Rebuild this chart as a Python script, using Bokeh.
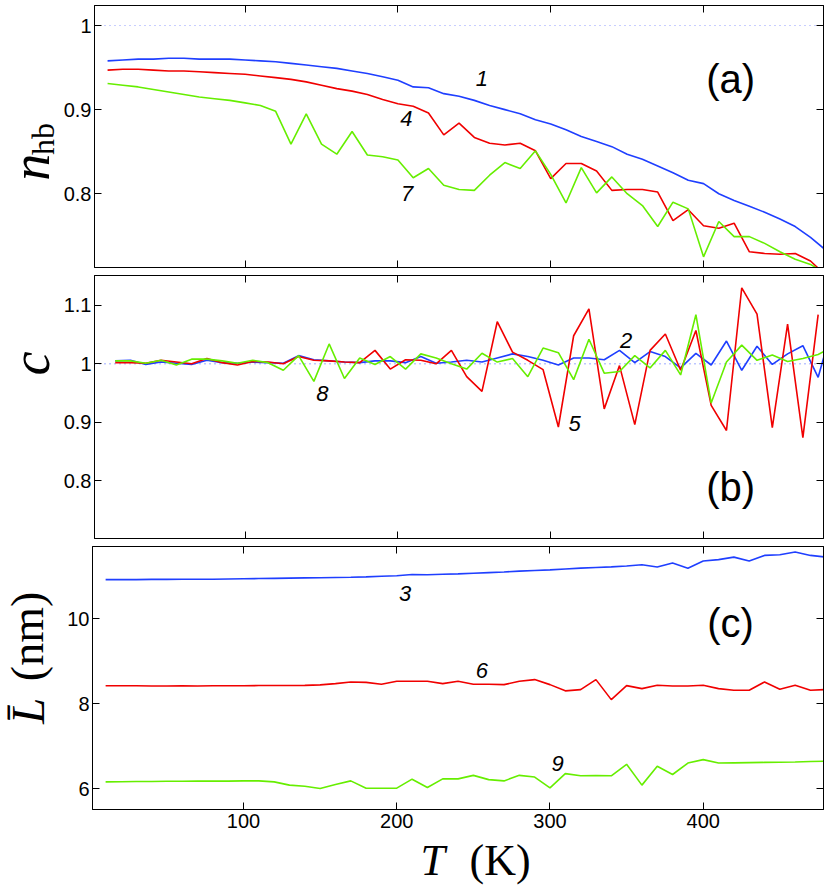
import math
from bokeh.plotting import figure
from bokeh.layouts import column, row
from bokeh.models import Range1d, LinearAxis, FixedTicker, CustomJSTickFormatter, Span, Label
from bokeh.embed import file_html
from bokeh.resources import INLINE

# ---------------- data ----------------
T = [10, 20, 30, 40, 50, 60, 70, 80, 90, 100, 110, 120, 130, 140, 150, 160,
     170, 180, 190, 200, 210, 220, 230, 240, 250, 260, 270, 280, 290, 300, 310, 320,
     330, 340, 350, 360, 370, 380, 390, 400, 410, 420, 430, 440, 450, 460, 470, 480]
T_mid = [15, 25, 35, 45, 55, 65, 75, 85, 95, 105, 115, 125, 135, 145, 155, 165,
         175, 185, 195, 205, 215, 225, 235, 245, 255, 265, 275, 285, 295, 305, 315, 325,
         335, 345, 355, 365, 375, 385, 395, 405, 415, 425, 435, 445, 455, 465, 475, 485]

# panel (a): n_hb
nhb_1 = [0.958, 0.959, 0.960, 0.960, 0.961, 0.961, 0.960, 0.960, 0.960, 0.959, 0.958, 0.957,
         0.955, 0.953, 0.951, 0.949, 0.946, 0.943, 0.939, 0.935, 0.927, 0.926, 0.919, 0.916,
         0.911, 0.905, 0.900, 0.895, 0.888, 0.883, 0.876, 0.868, 0.862, 0.856, 0.847, 0.841,
         0.833, 0.825, 0.816, 0.812, 0.800, 0.792, 0.785, 0.778, 0.770, 0.761, 0.748, 0.733]
nhb_4 = [0.947, 0.948, 0.948, 0.947, 0.946, 0.946, 0.945, 0.944, 0.943, 0.942, 0.940, 0.938,
         0.936, 0.933, 0.929, 0.925, 0.922, 0.918, 0.912, 0.907, 0.904, 0.896, 0.870, 0.884,
         0.867, 0.860, 0.858, 0.860, 0.851, 0.818, 0.836, 0.836, 0.827, 0.804, 0.805, 0.805,
         0.802, 0.768, 0.781, 0.762, 0.759, 0.765, 0.731, 0.729, 0.728, 0.729, 0.720, 0.703]
nhb_7 = [0.931, 0.929, 0.927, 0.924, 0.921, 0.918, 0.915, 0.913, 0.911, 0.908, 0.905, 0.898,
         0.859, 0.895, 0.859, 0.847, 0.874, 0.846, 0.844, 0.840, 0.819, 0.830, 0.810, 0.805,
         0.804, 0.822, 0.837, 0.830, 0.851, 0.823, 0.789, 0.831, 0.801, 0.820, 0.800, 0.786,
         0.761, 0.790, 0.782, 0.725, 0.767, 0.749, 0.749, 0.741, 0.731, 0.722, 0.716, 0.705]

# panel (b): c
c_2 = [1.005, 1.006, 0.999, 1.003, 1.001, 0.999, 1.006, 1.002, 1.001, 1.003, 1.002, 1.001,
       1.014, 1.007, 1.005, 1.003, 1.002, 1.005, 1.005, 1.002, 1.0125, 1.001, 1.003, 1.006,
       1.003, 1.010, 1.017, 1.0125, 1.006, 0.998, 1.010, 1.010, 1.007, 1.023, 1.002, 1.021,
       1.0125, 0.993, 1.018, 0.998, 1.039, 0.989, 1.030, 0.999, 1.017, 1.031, 0.977, 1.07]
c_5 = [1.002, 1.002, 1.001, 1.006, 1.003, 1.000, 1.009, 1.002, 0.998, 1.004, 1.003, 1.000,
       1.0125, 1.006, 1.005, 1.003, 1.002, 1.023, 0.991, 1.007, 1.006, 1.000, 1.023, 0.978,
       0.953, 1.072, 1.020, 1.006, 0.990, 0.892, 1.048, 1.094, 0.923, 0.997, 0.896, 1.023,
       1.051, 0.989, 1.057, 0.929, 0.886, 1.130, 1.085, 0.891, 1.068, 0.874, 1.084]
c_8 = [1.005, 1.005, 1.001, 1.006, 0.998, 1.008, 1.008, 1.005, 1.001, 1.006, 1.002, 0.989,
       1.014, 0.970, 1.034, 0.975, 1.010, 0.999, 1.0125, 0.991, 1.017, 1.010, 1.000, 0.991,
       1.018, 1.003, 1.009, 0.978, 1.027, 1.019, 0.973, 1.042, 0.984, 0.987, 1.014, 0.993,
       1.023, 0.981, 1.084, 0.933, 1.003, 1.032, 1.006, 1.015, 1.004, 1.009, 1.016, 1.030]

# panel (c): L (nm)
L_3 = [10.92, 10.92, 10.92, 10.925, 10.925, 10.928, 10.93, 10.93, 10.935, 10.94, 10.945, 10.95,
       10.955, 10.96, 10.965, 10.97, 10.975, 10.985, 11.0, 11.01, 11.04, 11.035, 11.045, 11.055,
       11.07, 11.085, 11.10, 11.12, 11.135, 11.15, 11.17, 11.19, 11.205, 11.22, 11.24, 11.27,
       11.216, 11.31, 11.19, 11.357, 11.39, 11.45, 11.357, 11.49, 11.506, 11.57, 11.49, 11.45]
L_6 = [8.42, 8.42, 8.42, 8.415, 8.415, 8.42, 8.415, 8.42, 8.42, 8.42, 8.425, 8.425,
       8.425, 8.43, 8.44, 8.47, 8.51, 8.50, 8.455, 8.525, 8.525, 8.525, 8.47, 8.525,
       8.455, 8.455, 8.447, 8.525, 8.565, 8.447, 8.30, 8.33, 8.565, 8.094, 8.424, 8.353,
       8.431, 8.416, 8.416, 8.431, 8.353, 8.314, 8.314, 8.51, 8.337, 8.431, 8.314, 8.33]
L_9 = [6.157, 6.16, 6.165, 6.165, 6.17, 6.17, 6.175, 6.175, 6.175, 6.18, 6.18, 6.157,
       6.08, 6.055, 6.0, 6.094, 6.18, 6.008, 6.008, 6.008, 6.22, 6.024, 6.227, 6.227,
       6.31, 6.21, 6.18, 6.31, 6.27, 6.016, 6.35, 6.30, 6.306, 6.30, 6.57, 6.08,
       6.525, 6.33, 6.60, 6.68, 6.60, 6.605, 6.61, 6.615, 6.62, 6.625, 6.635, 6.645]

x_ticks = [100, 200, 300, 400]
ticks_a = [0.8, 0.9, 1.0]
ticks_b = [0.8, 0.9, 1.0, 1.1]
ticks_c = [6, 8, 10]

BLUE = "#1f3fff"
RED = "#f00000"
GREEN = "#66ee00"
SANS = "Liberation Sans"
SERIF = "Liberation Serif"

xr = Range1d(1.44, 478.5)
fmt_code = "return Number(tick.toFixed(2)).toString();"
LABEL_W = 60
MAIN_W = 830 - LABEL_W


def style(ax, ticks, labels, standoff=3):
    ax.ticker = FixedTicker(ticks=ticks)
    ax.major_tick_in = 7
    ax.major_tick_out = 0
    ax.minor_tick_line_color = None
    ax.axis_line_color = "black"
    ax.major_tick_line_color = "black"
    ax.major_tick_line_width = 1
    if labels:
        ax.formatter = CustomJSTickFormatter(code=fmt_code)
        ax.major_label_text_font = SANS
        ax.major_label_text_font_size = "20px"
        ax.major_label_text_color = "black"
        ax.major_label_standoff = standoff
    else:
        ax.formatter = CustomJSTickFormatter(code="return '';")
        ax.major_label_text_font_size = "2px"
        ax.major_label_standoff = 0


def make_panel(yr, ticks, height, top_border, bottom_border, x_labels):
    p = figure(x_range=xr, y_range=yr, width=MAIN_W, height=height,
               min_border_left=92 - LABEL_W, min_border_right=7, min_border_top=top_border,
               min_border_bottom=bottom_border, output_backend="svg",
               toolbar_location=None, background_fill_color="white",
               border_fill_color="white")
    p.grid.visible = False
    p.outline_line_color = "black"
    p.outline_line_width = 1
    style(p.xaxis[0], x_ticks, x_labels, standoff=4)
    style(p.yaxis[0], ticks, True, standoff=3)
    top = LinearAxis()
    style(top, x_ticks, False)
    p.add_layout(top, "above")
    right = LinearAxis()
    style(right, ticks, False)
    p.add_layout(right, "right")
    return p


def text_fig(width, height):
    # a blank canvas whose data units are its own pixels (y measured upwards)
    f = figure(width=width, height=height, x_range=Range1d(0, width),
               y_range=Range1d(0, height), min_border=0, x_axis_location=None,
               y_axis_location=None, output_backend="svg", toolbar_location=None,
               background_fill_color="white", border_fill_color="white")
    f.grid.visible = False
    f.outline_line_color = None
    return f


def num_label(p, x, y, t, size="22px", style_="italic"):
    p.add_layout(Label(x=x, y=y, text=t, text_font=SANS, text_font_size=size,
                       text_font_style=style_, text_align="center",
                       text_baseline="middle", text_color="black"))


def rot_label(f, h, x_center, y_from_top, t, size, style_):
    f.add_layout(Label(x=x_center, y=h - y_from_top, text=t, text_font=SERIF,
                       text_font_size=size, text_font_style=style_, text_align="left",
                       text_baseline="middle", angle=math.pi / 2, text_color="black"))


HA, HB, HC, HX = 275, 271, 289, 54

# ---------- panel (a) ----------
pa = make_panel(Range1d(0.7123, 1.0238), ticks_a, HA, 5, 8, False)
pa.add_layout(Span(location=1.0, dimension="width", line_color="#8f9cff",
                   line_dash="1 4", line_width=1, level="underlay"))
pa.line(T, nhb_1, line_color=BLUE, line_width=1.6)
pa.line(T, nhb_4, line_color=RED, line_width=1.6)
pa.line(T, nhb_7, line_color=GREEN, line_width=1.6)
num_label(pa, 255, 0.9375, "1")
num_label(pa, 205.5, 0.889, "4")
num_label(pa, 206, 0.800, "7")
num_label(pa, 417.8, 0.937, "(a)", "40px", "normal")
la = text_fig(LABEL_W, HA)
rot_label(la, HA, 30, 184, "n", "54px", "italic")
rot_label(la, HA, 42, 157, "hb", "32px", "normal")

# ---------- panel (b) ----------
pb = make_panel(Range1d(0.7014, 1.151), ticks_b, HB, 0, 8, False)
pb.add_layout(Span(location=1.0, dimension="width", line_color="#3a55ff",
                   line_dash="1 4", line_width=1, level="underlay"))
pb.line(T_mid[:len(c_2)], c_2, line_color=BLUE, line_width=1.6)
pb.line(T_mid[:len(c_5)], c_5, line_color=RED, line_width=1.6)
pb.line(T_mid[:len(c_8)], c_8, line_color=GREEN, line_width=1.6)
num_label(pb, 349.4, 1.040, "2")
num_label(pb, 315.7, 0.898, "5")
num_label(pb, 150.6, 0.949, "8")
num_label(pb, 417.8, 0.789, "(b)", "40px", "normal")
lb = text_fig(LABEL_W, HB)
rot_label(lb, HB, 30, 103, "c", "54px", "italic")

# ---------- panel (c) ----------
pc = make_panel(Range1d(5.506, 11.70), ticks_c, HC, 0, 26, True)
pc.line(T, L_3, line_color=BLUE, line_width=1.6)
pc.line(T, L_6, line_color=RED, line_width=1.6)
pc.line(T, L_9, line_color=GREEN, line_width=1.6)
num_label(pc, 205.4, 10.595, "3")
num_label(pc, 255.5, 8.78, "6")
num_label(pc, 305, 6.595, "9")
num_label(pc, 417.8, 9.89, "(c)", "40px", "normal")
lc = text_fig(LABEL_W, HC)
rot_label(lc, HC, 27, 195, "L\u0304", "47px", "italic")
rot_label(lc, HC, 27, 148, "(nm)", "46px", "normal")

# ---------- x label ----------
lx = text_fig(830, HX)
lx.add_layout(Label(x=420, y=HX - 25, text="T", text_font=SERIF, text_font_size="44px",
                    text_font_style="italic", text_align="left", text_baseline="middle",
                    text_color="black"))
lx.add_layout(Label(x=469, y=HX - 25, text="(K)", text_font=SERIF, text_font_size="44px",
                    text_font_style="normal", text_align="left", text_baseline="middle",
                    text_color="black"))

layout = column(row(la, pa), row(lb, pb), row(lc, pc), lx)
open("out.html", "w").write(file_html(layout, INLINE))
